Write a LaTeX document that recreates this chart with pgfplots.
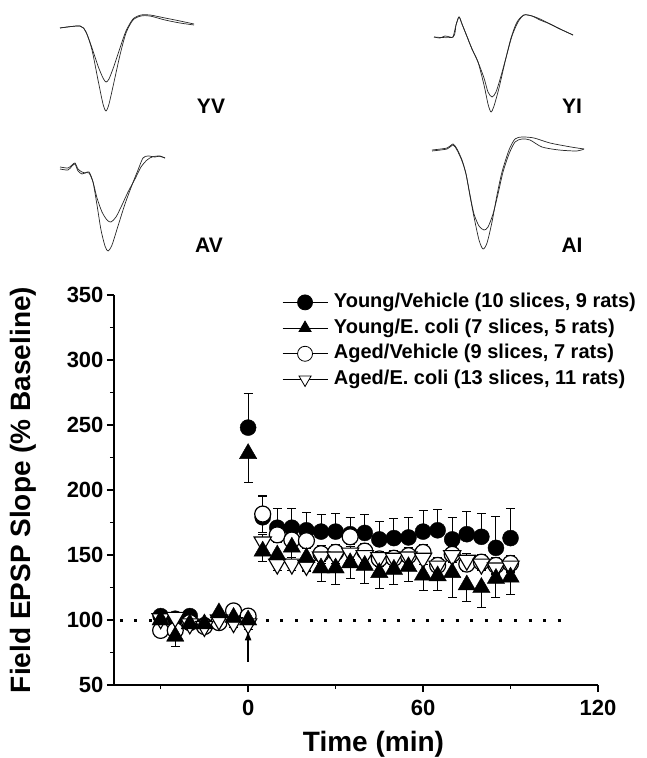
\documentclass[border=0pt]{standalone}
\usepackage{fontspec}
\setmainfont{Liberation Sans}
\usepackage{pgfplots}
\usepackage{pgfplotstable}
\pgfplotsset{compat=1.18}
\usetikzlibrary{arrows.meta}

% Young/Vehicle: mean and upper error
\pgfplotstableread{
t y e
-30 103 3
-25 101 3
-20 103 3
-15 96 3
-10 98 3
-5 102 3
0 101 3
0 248 26
5 179 16
10 171 15
15 171 15
20 169 14
25 168 13
30 168 14
35 166 13
40 167 14
45 162 14
50 163 15
55 163.5 15
60 168 16.5
65 169 16
70 162 17
75 166 17.5
80 164 18
85 155.5 24
90 163 22.5
}\youngveh

% Young/E. coli: mean and lower error
\pgfplotstableread{
t y e
-30 100 3
-25 87.5 7.5
-20 97 3
-15 97 3
-10 105.5 4
-5 102 3
0 100 3
0 228 22
5 153 8
10 150 9
15 156 10
20 148 10
25 140 10.5
30 140 12.5
35 144 12
40 142 14
45 136.5 12
50 139 11.5
55 141 11.5
60 134.5 11.5
65 134 11
70 136.5 19
75 127 12.5
80 125 15.5
85 132 15
90 133 13
}\youngecoli

% Aged/Vehicle
\pgfplotstableread{
t y e
-30 92 4
-25 92 4
-20 98 4
-15 95 4
-10 98 4
-5 107 4
0 103 4
5 181.5 14
10 165.5 6
15 161.5 6
20 161 6
25 151 6
30 152 6
35 164 6
40 153 6
45 147 6
50 147.5 6
55 149.5 6
60 152 6
65 142 6
70 150.5 6
75 143 6
80 144.5 6
85 142 6
90 143.5 6
}\agedveh

% Aged/E. coli
\pgfplotstableread{
t y e
-30 101 4
-25 102 4
-20 97 4
-15 95 4
-10 100 4
-5 98 4
0 97 4
5 160 6
10 143 5
15 143 5
20 142 5
25 148.5 5
30 148.5 5
35 151.5 5
40 149.5 5
45 148 5
50 147.5 5
55 148.5 5
60 147.5 5
65 141.5 5
70 149.5 5
75 146 5
80 143 5
85 140 5
90 141.5 5
}\agedecoli

\begin{document}
\begin{tikzpicture}
\path[use as bounding box] (0,0) rectangle (646pt,758pt);

% sample traces
\begin{axis}[at={(0pt,498pt)}, anchor=south west, scale only axis,
  width=646pt, height=260pt, xmin=0, xmax=646, ymin=0, ymax=260,
  y dir=reverse, hide axis, clip=false]
\pgfplotsset{trace/.style={black!85, line width=0.7pt, smooth, tension=0.45}}
% YV
\addplot[trace] coordinates {(60,28) (80,26) (86,32) (92,50) (98,80) (103,104) (106,111) (109,104) (114,82) (120,55) (126,33) (133,20) (141,16) (150,16) (165,20) (180,23) (194,25)};
\addplot[trace] coordinates {(60,28) (80,26) (86,32) (92,48) (98,66) (103,78) (106,82) (109,79) (114,66) (120,48) (126,31) (133,19) (141,15) (150,15) (165,18) (180,21) (194,24)};
% YI
\addplot[trace] coordinates {(434,37) (440,38) (445,36) (450,37) (453,37) (456,25) (459,17) (462,24) (466,34) (472,49) (478,62) (484,85) (488,104) (491,112) (494,106) (499,88) (505,62) (511,38) (517,22) (524,15) (532,16) (540,19) (550,24) (560,29) (573,35)};
\addplot[trace] coordinates {(434,37) (453,37) (456,25) (459,17) (462,24) (466,34) (472,49) (478,62) (484,78) (488,92) (492,97) (496,92) (501,76) (507,54) (512,36) (518,22) (524,15) (532,16) (540,20) (550,24) (560,29) (573,35)};
% AV
\addplot[trace] coordinates {(60,167) (68,168) (72,165) (75,163) (78,169) (82,172) (85,173) (89,172) (93,182) (97,205) (101,230) (105,246) (108,251) (112,245) (118,226) (125,204) (132,185) (138,170) (143,158) (148,156) (155,157) (160,156) (165,158)};
\addplot[trace] coordinates {(60,169) (68,170) (72,166) (75,164) (78,171) (82,174) (85,173) (89,173) (93,182) (97,198) (102,212) (107,220) (111,222) (116,217) (122,205) (128,192) (135,179) (141,167) (147,160) (152,157) (158,156) (165,158)};
% AI
\addplot[trace] coordinates {(432,150) (447,148) (453,144) (457,149) (462,160) (466,174) (470,196) (474,217) (479,240) (483,249) (487,243) (492,222) (497,195) (502,172) (509,150) (515,139) (522,137) (534,138) (550,143) (571,147) (584,149)};
\addplot[trace] coordinates {(432,151) (447,149) (453,145) (457,150) (462,161) (466,174) (470,195) (474,214) (479,226) (484,230) (488,227) (493,214) (498,194) (503,172) (509,154) (515,142) (522,139) (530,140) (542,147) (559,150) (577,151) (584,149)};
\tikzset{lab/.style={font=\bfseries\fontsize{21}{21}\selectfont}}
\node[lab] at (axis cs:211,106) {YV};
\node[lab] at (axis cs:572,106) {YI};
\node[lab] at (axis cs:209,245) {AV};
\node[lab] at (axis cs:572,245) {AI};
\end{axis}

% main plot
\begin{axis}[at={(114pt,73pt)}, anchor=south west, scale only axis,
  width=484pt, height=390pt,
  xmin=-46, xmax=120, ymin=50, ymax=350,
  axis x line*=bottom, axis y line*=left,
  axis line style={line width=1.5pt},
  xtick={0,60,120}, minor xtick={-30,30,90},
  ytick={50,100,...,350}, minor ytick={75,125,...,325},
  tick align=outside, major tick length=7pt, minor tick length=4pt,
  every tick/.style={black, line width=1.3pt},
  /pgf/number format/assume math mode=true,
  ticklabel style={font=\bfseries\fontsize{22}{22}\selectfont},
  xticklabel style={yshift=-5pt},
  xlabel={Time (min)}, ylabel={Field EPSP Slope (\% Baseline)},
  every axis x label/.style={at={(axis cs:43,50)}, anchor=center, yshift=-59pt,
    font=\bfseries\fontsize{28}{28}\selectfont},
  every axis y label/.style={at={(axis description cs:-0.188,0.5)}, anchor=center, rotate=90,
    font=\bfseries\fontsize{28}{28}\selectfont},
  clip=false,
  legend style={draw=none, fill=none, inner sep=0pt, at={(axis description cs:0.347,1.0085)},
    anchor=north west, font=\bfseries\fontsize{20}{20}\selectfont,
    row sep=4.7pt, column sep=5pt,
    nodes={inner sep=1pt, text height=14.5pt, text depth=4.5pt}},
  legend cell align=left,
  legend image code/.code={\draw[mark repeat=2, mark phase=2] plot coordinates {(0pt,0pt) (22.5pt,0pt) (45pt,0pt)};},
  error bars/error bar style={line width=1pt, black},
  error bars/error mark options={rotate=90, mark size=4.5pt, line width=1pt, black},
]
\addplot[black, line width=3pt, dash pattern=on 3pt off 11.6pt, forget plot] coordinates {(-44,100) (108,100)};

\addplot[only marks, mark=*, mark size=8pt, black, forget plot,
  error bars/.cd, y dir=plus, y explicit]
  table[x=t, y=y, y error=e] {\youngveh};
\addplot[only marks, mark=*, mark size=8pt, black, mark options={fill=white, line width=1.2pt}, forget plot,
  error bars/.cd, y dir=both, y explicit]
  table[x=t, y=y, y error=e] {\agedveh};
\addplot[only marks, mark=triangle*, mark size=10pt, black, mark options={fill=white, rotate=180, line width=1.1pt}, forget plot,
  error bars/.cd, y dir=both, y explicit]
  table[x=t, y=y, y error=e] {\agedecoli};
\addplot[only marks, mark=triangle*, mark size=10pt, black, forget plot,
  error bars/.cd, y dir=minus, y explicit]
  table[x=t, y=y, y error=e] {\youngecoli};

\draw[-{Latex[length=10pt, width=7pt]}, line width=1.6pt] (axis cs:0,68) -- (axis cs:0,92);

\addlegendimage{black, line width=0.8pt, mark=*, mark size=7.5pt}
\addlegendentry{Young/Vehicle (10 slices, 9 rats)}
\addlegendimage{black, line width=0.8pt, mark=triangle*, mark size=7pt}
\addlegendentry{Young/E. coli (7 slices, 5 rats)}
\addlegendimage{black, line width=0.8pt, mark=*, mark size=7.5pt, mark options={fill=white}}
\addlegendentry{Aged/Vehicle (9 slices, 7 rats)}
\addlegendimage{black, line width=0.8pt, mark=triangle*, mark size=7pt, mark options={fill=white, rotate=180}}
\addlegendentry{Aged/E. coli (13 slices, 11 rats)}
\end{axis}
\end{tikzpicture}
\end{document}
